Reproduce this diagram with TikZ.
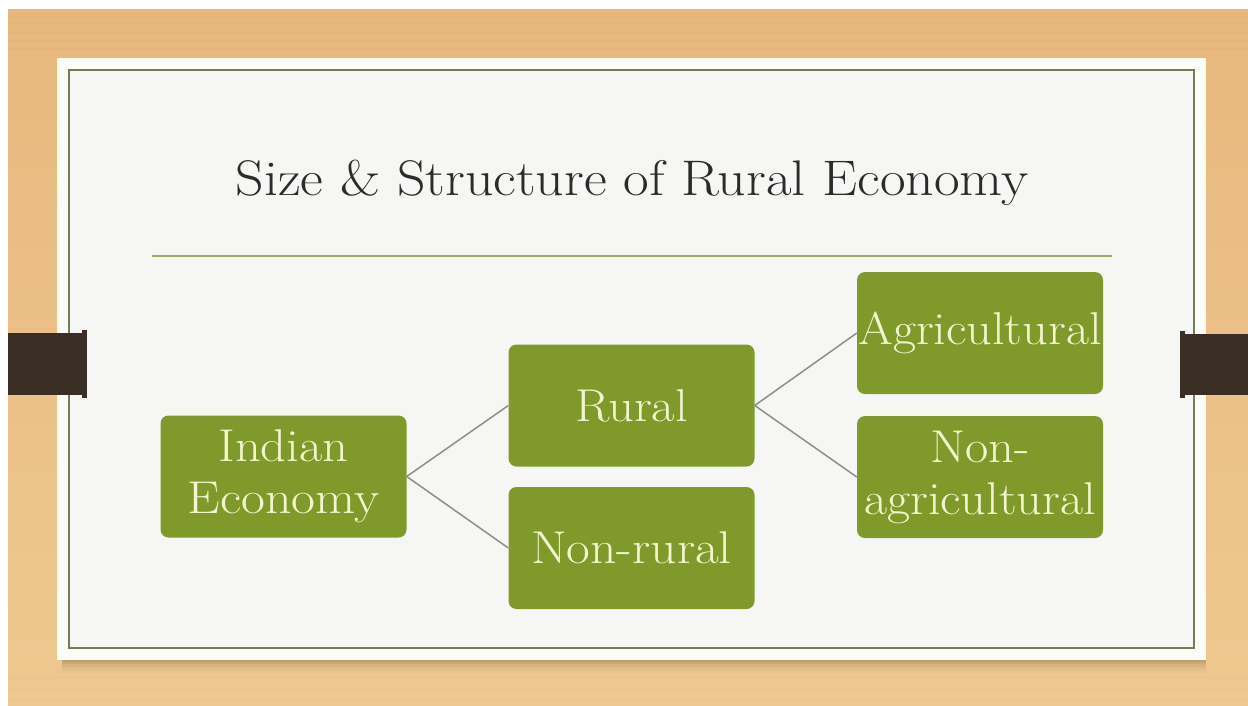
\documentclass[tikz,border=0pt]{standalone}
\usepackage{fontspec}
\usetikzlibrary{calc}

\definecolor{woodTop}{HTML}{E7B87D}
\definecolor{woodMid}{HTML}{EBC088}
\definecolor{woodBot}{HTML}{EEC890}
\definecolor{woodGrain}{HTML}{C98F52}
\definecolor{cardEdge}{HTML}{FCFDF8}
\definecolor{panel}{HTML}{F6F6F4}
\definecolor{frameLine}{HTML}{6F8055}
\definecolor{ruleLine}{HTML}{9DAA62}
\definecolor{boxGreen}{HTML}{7F9A2B}
\definecolor{boxText}{HTML}{F3F5CF}
\definecolor{linkLine}{HTML}{8C9182}
\definecolor{strap}{HTML}{3A2E25}
\definecolor{titleText}{HTML}{2B2B2B}

% wide serif lettering
\newcommand\widetext[2][1.1]{\scalebox{#1}[1]{#2}}

\tikzset{
  box/.style={fill=boxGreen, rounded corners=8pt, minimum width=246pt,
    minimum height=122pt, inner sep=0pt, align=center, text=boxText,
    font=\fontsize{46}{52}\selectfont},
  link/.style={draw=linkLine, line width=1.5pt},
}

\begin{document}
\begin{tikzpicture}[x=1pt, y=-1pt]
\useasboundingbox (0,0) rectangle (1248,705);

% white margin and wooden table
\fill[white] (0,0) rectangle (1248,705);
\shade[top color=woodTop, bottom color=woodBot, middle color=woodMid]
  (8,9) rectangle (1248,705);
\foreach \yy/\op in {14/0.08, 22/0.05, 31/0.07, 40/0.05, 47/0.06,
                     676/0.04, 688/0.05, 698/0.04}
  \fill[woodGrain, opacity=\op] (8,\yy) rectangle (1248,\yy+2.5);

% soft shadow under the slide
\foreach \d/\op in {13/0.025, 10/0.03, 7/0.04, 4/0.05, 2/0.06}
  \fill[black, opacity=\op] (62,652) rectangle (1206,660+\d);

% slide card and framed panel
\fill[cardEdge] (57,58) rectangle (1206,660);
\fill[panel] (69,70) rectangle (1194,648);
\draw[frameLine, line width=2pt] (69,70) rectangle (1194,648);

% straps
\fill[strap] (8,333) rectangle (84,395);
\fill[strap] (82,330) rectangle (87,398);
\fill[strap] (1184,334) rectangle (1248,395);
\fill[strap] (1180,331) rectangle (1185,398);

% title and rule
\node[anchor=base, text=titleText, font=\fontsize{50}{56}\selectfont, inner sep=0pt]
  (title) at (632,195) {\widetext[1.115]{Size \& Structure of Rural Economy}};
\draw[ruleLine, line width=1.5pt] (152,256) -- (1112,256);

% hierarchy
\node[box] (ie)       at (283.5,476.5) {\widetext{Indian}\\\widetext[1.13]{Economy}};
\node[box] (rural)    at (631.5,405.5) {\widetext{Rural}};
\node[box] (nonrural) at (631.5,548)   {\widetext[1.12]{Non-rural}};
\node[box] (agri)     at (980,333)     {\widetext[1.09]{Agricultural}};
\node[box] (nonagri)  at (980,477)     {\widetext{Non-}\\\widetext[1.09]{agricultural}};

\draw[link] (ie.east) -- (rural.west);
\draw[link] (ie.east) -- (nonrural.west);
\draw[link] (rural.east) -- (agri.west);
\draw[link] (rural.east) -- (nonagri.west);
\end{tikzpicture}
\end{document}
